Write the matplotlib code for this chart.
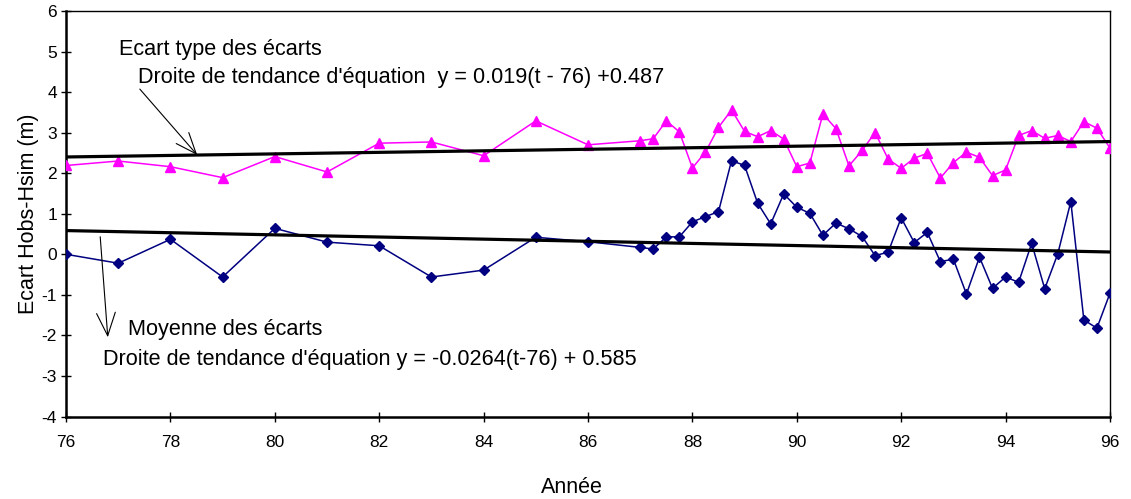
import numpy as np
import matplotlib
matplotlib.use("Agg")
import matplotlib.pyplot as plt

plt.rcParams['font.family'] = ['Liberation Sans', 'DejaVu Sans']

# Annual points 76..86, then quarterly 87..96
years_annual = [76, 77, 78, 79, 80, 81, 82, 83, 84, 85, 86]
years_quarter = [87 + 0.25 * i for i in range(37)]
years = years_annual + years_quarter

ecart_type = [2.19, 2.30, 2.16, 1.89, 2.41, 2.03, 2.74, 2.77, 2.43, 3.29, 2.70,
              2.80, 2.85, 3.29, 3.02, 2.13, 2.52, 3.13, 3.56, 3.03, 2.90, 3.05, 2.84,
              2.16, 2.25, 3.46, 3.10, 2.18, 2.56, 3.00, 2.35, 2.12, 2.37, 2.49, 1.88,
              2.26, 2.52, 2.39, 1.94, 2.08, 2.93, 3.05, 2.86, 2.93, 2.78, 3.27, 3.11, 2.62]

moyenne = [0.00, -0.22, 0.37, -0.56, 0.64, 0.30, 0.21, -0.56, -0.39, 0.42, 0.31,
           0.17, 0.13, 0.43, 0.43, 0.80, 0.93, 1.05, 2.31, 2.19, 1.26, 0.75, 1.49,
           1.16, 1.01, 0.47, 0.77, 0.63, 0.44, -0.03, 0.05, 0.90, 0.29, 0.54, -0.18,
           -0.12, -0.98, -0.07, -0.84, -0.56, -0.69, 0.27, -0.85, 0.01, 1.30, -1.62, -1.82, -0.96]

# Trend lines as drawn: slope, value at t=76
trend_std = (0.019, 2.40)
trend_mean = (-0.0264, 0.585)

x_ticks = [76, 78, 80, 82, 84, 86, 88, 90, 92, 94, 96]
y_ticks = [-4, -3, -2, -1, 0, 1, 2, 3, 4, 5, 6]

fig = plt.figure(figsize=(11.31, 4.99), dpi=100)
ax = fig.add_axes([0.0584, 0.1653, 0.9230, 0.8127])

ax.plot(years, ecart_type, color='#FF00FF', lw=1.1, marker='^', ms=7,
        markeredgecolor='#FF00FF', zorder=3)
ax.plot(years, moyenne, color='#000080', lw=1.1, marker='D', ms=5.5,
        markeredgecolor='#000080', zorder=3)

t = np.array([76, 96])
ax.plot(t, trend_std[0] * (t - 76) + trend_std[1], color='black', lw=2.3, zorder=4)
ax.plot(t, trend_mean[0] * (t - 76) + trend_mean[1], color='black', lw=2.3, zorder=4)

ax.set_xlim(76, 96)
ax.set_ylim(-4, 6)
ax.set_xticks(x_ticks)
ax.set_xticklabels([str(v) for v in x_ticks])
ax.set_yticks(y_ticks)
ax.set_yticklabels([str(v) for v in y_ticks])
ax.tick_params(direction='inout', length=7, width=1, labelsize=12.5, colors='black')
ax.tick_params(axis='x', pad=10)
ax.tick_params(axis='y', pad=3)
for s in ax.spines.values():
    s.set_linewidth(1.0)
ax.spines['left'].set_linewidth(1.8)
ax.spines['bottom'].set_linewidth(1.8)

fig.text(0.025, 0.571, 'Ecart Hobs-Hsim (m)', rotation=90, ha='center', va='center', fontsize=15.5)
fig.text(0.506, 0.024, 'Année', ha='center', va='center', fontsize=15.5)

fs = 15.6
ax.annotate('', xy=(199, 499 - 157), xycoords='figure pixels',
            xytext=(138, 499 - 87), textcoords='figure pixels',
            arrowprops=dict(arrowstyle='->,head_length=1.0,head_width=0.4', color='black',
                            lw=0.8, mutation_scale=15))
ax.annotate('', xy=(108, 499 - 340), xycoords='figure pixels',
            xytext=(100, 499 - 234), textcoords='figure pixels',
            arrowprops=dict(arrowstyle='->,head_length=1.1,head_width=0.45', color='black',
                            lw=0.8, mutation_scale=15))

fig.text(119 / 1131, 1 - 50 / 499, 'Ecart type des écarts', ha='left', va='center', fontsize=fs)
fig.text(138 / 1131, 1 - 78 / 499, "Droite de tendance d'équation  y = 0.019(t - 76) +0.487",
         ha='left', va='center', fontsize=fs)
fig.text(128 / 1131, 1 - 330 / 499, 'Moyenne des écarts', ha='left', va='center', fontsize=fs)
fig.text(103 / 1131, 1 - 359 / 499, "Droite de tendance d'équation y = -0.0264(t-76) + 0.585",
         ha='left', va='center', fontsize=fs)

fig.savefig('out.png', dpi=100)
